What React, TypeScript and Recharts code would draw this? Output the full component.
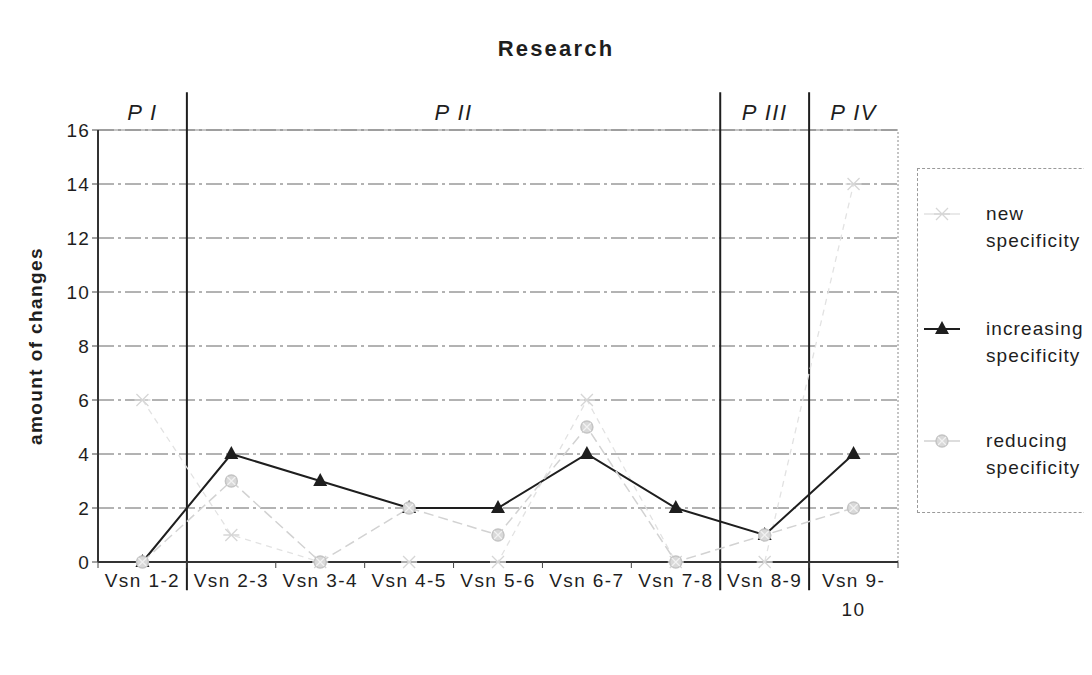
import {
  CartesianGrid,
  Line,
  LineChart,
  ReferenceArea,
  ReferenceLine,
  XAxis,
  YAxis,
} from 'recharts'

const categories = [
  'Vsn 1-2',
  'Vsn 2-3',
  'Vsn 3-4',
  'Vsn 4-5',
  'Vsn 5-6',
  'Vsn 6-7',
  'Vsn 7-8',
  'Vsn 8-9',
  'Vsn 9-10',
]
const newSpecificity = [6, 1, 0, 0, 0, 6, 0, 0, 14]
const increasingSpecificity = [0, 4, 3, 2, 2, 4, 2, 1, 4]
const reducingSpecificity = [0, 3, 0, 2, 1, 5, 0, 1, 2]
const seriesNames = ['new specificity', 'increasing specificity', 'reducing specificity']
const yTicks = [0, 2, 4, 6, 8, 10, 12, 14, 16]
const slotTicks = [0, 1, 2, 3, 4, 5, 6, 7, 8, 9]
const phaseNames = ['P I', 'P II', 'P III', 'P IV']
const phaseStarts = [0, 1, 7, 8]
const phaseEnds = [1, 7, 8, 9]

const FONT = '"Liberation Sans", Arial, sans-serif'
const INK = '#1e1e1e'
const NEW_COLOR = '#e2e2e2'
const REDUCING_COLOR = '#d2d2d2'
const SLOTS = 'a' // numeric axis over the category slots, for phase lines and ticks

const data = categories.map((name, i) => ({
  name,
  slot: i + 0.5,
  newSpec: newSpecificity[i],
  increasing: increasingSpecificity[i],
  reducing: reducingSpecificity[i],
}))

function TriangleDot({ cx, cy, index }: any) {
  return (
    <polygon
      key={`tri-${index}`}
      points={`${cx},${cy - 8} ${cx - 7},${cy + 5} ${cx + 7},${cy + 5}`}
      fill={INK}
    />
  )
}

function StarDot({ cx, cy, index }: any) {
  return (
    <g key={`star-${index}`}>
      <circle cx={cx} cy={cy} r={6} fill="#d9d9d9" stroke="#c4c4c4" strokeWidth={1.5} />
      <path
        d={`M${cx - 4},${cy - 4}L${cx + 4},${cy + 4}M${cx + 4},${cy - 4}L${cx - 4},${cy + 4}`}
        stroke="#f2f2f2"
        strokeWidth={1.2}
      />
    </g>
  )
}

function CrossDot({ cx, cy, index }: any) {
  return (
    <path
      key={`cross-${index}`}
      d={`M${cx - 6},${cy - 6}L${cx + 6},${cy + 6}M${cx + 6},${cy - 6}L${cx - 6},${cy + 6}M${cx - 8},${cy}L${cx + 8},${cy}`}
      stroke="#d6d6d6"
      strokeWidth={1.3}
      fill="none"
    />
  )
}

function CategoryTick({ x, y, payload }: any) {
  const label: string = payload.value
  // Excel wraps the last label after the hyphen
  const lines = label.length > 7 ? [label.slice(0, 6), label.slice(6)] : [label]
  return (
    <text
      x={x}
      y={y}
      textAnchor="middle"
      fill={INK}
      fontSize={19}
      letterSpacing={1.4}
      fontFamily={FONT}
    >
      {lines.map((line, i) => (
        <tspan key={i} x={x} dy={i === 0 ? 11 : 29}>
          {line}
        </tspan>
      ))}
    </text>
  )
}

function LegendBox() {
  const symbols = [CrossDot, TriangleDot, StarDot]
  const colors = [NEW_COLOR, INK, REDUCING_COLOR]
  const rowTops = [45, 160, 272]
  return (
    <div
      style={{
        position: 'absolute',
        left: 909,
        top: 160,
        width: 200,
        height: 345,
        border: '1px dashed #9a9a9a',
        borderRight: 'none',
        boxSizing: 'border-box',
        fontFamily: FONT,
        fontSize: 19,
        letterSpacing: 1.1,
        color: INK,
      }}
    >
      {seriesNames.map((name, i) => {
        const Sym = symbols[i]
        return (
          <div key={name} style={{ position: 'absolute', left: 0, top: rowTops[i] - 14 }}>
            <svg width={64} height={28} style={{ position: 'absolute', left: 4, top: 0 }}>
              <line x1={2} y1={14} x2={38} y2={14} stroke={colors[i]} strokeWidth={i === 1 ? 2 : 1.3} />
              {Sym({ cx: 20, cy: 14, index: 0 })}
            </svg>
            <div
              style={{ position: 'absolute', left: 68, top: 0, lineHeight: '27px', whiteSpace: 'nowrap' }}
            >
              {name.split(' ').map((w) => (
                <div key={w}>{w}</div>
              ))}
            </div>
          </div>
        )
      })}
    </div>
  )
}

export default function App() {
  return (
    <div style={{ position: 'relative', width: 1084, height: 659, overflow: 'hidden', fontFamily: FONT }}>
      <div
        style={{
          position: 'absolute',
          left: 0,
          width: 1096,
          top: 28,
          textAlign: 'center',
          fontWeight: 'bold',
          fontSize: 22,
          letterSpacing: 2.2,
          color: INK,
        }}
      >
        Research
      </div>
      <LineChart
        width={1076}
        height={650}
        data={data}
        margin={{ top: 122, right: 186, bottom: 36, left: 30 }}
      >
        <CartesianGrid vertical={false} stroke="#666" strokeDasharray="16 4 3 4" xAxisId="cat" />
        <XAxis
          xAxisId="cat"
          dataKey="name"
          scale="band"
          interval={0}
          tickLine={false}
          axisLine={false}
          tick={<CategoryTick />}
          height={54}
        />
        <XAxis
          xAxisId={SLOTS}
          type="number"
          dataKey="slot"
          domain={[0, 9]}
          allowDataOverflow
          ticks={slotTicks}
          tick={(p: any) => <g key={`s-${p.index}`} />}
          tickLine={{ stroke: '#444' }}
          tickSize={6}
          axisLine={{ stroke: '#333', strokeWidth: 2 }}
          height={6}
        />
        <YAxis
          domain={[0, 16]}
          ticks={yTicks}
          width={60}
          tickSize={6}
          tickMargin={2}
          tick={{ fontSize: 19, fill: INK, fontFamily: FONT, letterSpacing: 1.2 }}
          tickLine={{ stroke: '#444' }}
          axisLine={{ stroke: '#333', strokeWidth: 2 }}
          label={{
            value: 'amount of changes',
            angle: -90,
            position: 'center',
            dx: -33,
            fontSize: 19,
            fontWeight: 'bold',
            letterSpacing: 1.4,
            fill: INK,
            fontFamily: FONT,
          }}
        />
        <ReferenceLine xAxisId="cat" y={16} stroke="#8a8a8a" />
        <ReferenceLine xAxisId={SLOTS} x={9} stroke="#8a8a8a" strokeDasharray="2 2" />
        {phaseNames.map((p, i) => (
          <ReferenceArea
            key={p}
            xAxisId={SLOTS}
            x1={phaseStarts[i]}
            x2={phaseEnds[i]}
            fillOpacity={0}
            strokeOpacity={0}
            ifOverflow="visible"
            label={{
              value: p,
              position: 'top',
              offset: 10,
              fontSize: 22,
              fontStyle: 'italic',
              letterSpacing: 1.5,
              fill: INK,
              fontFamily: FONT,
            }}
          />
        ))}
        {phaseStarts.slice(1).map((x) => (
          <ReferenceLine
            key={x}
            xAxisId={SLOTS}
            segment={[
              { x, y: -1.05 },
              { x, y: 17.4 },
            ]}
            ifOverflow="visible"
            stroke={INK}
            strokeWidth={2}
          />
        ))}
        <Line
          xAxisId="cat"
          dataKey="newSpec"
          name={seriesNames[0]}
          stroke={NEW_COLOR}
          strokeWidth={1.3}
          strokeDasharray="6 5"
          dot={CrossDot}
          isAnimationActive={false}
        />
        <Line
          xAxisId="cat"
          dataKey="increasing"
          name={seriesNames[1]}
          stroke={INK}
          strokeWidth={2}
          dot={TriangleDot}
          isAnimationActive={false}
        />
        <Line
          xAxisId="cat"
          dataKey="reducing"
          name={seriesNames[2]}
          stroke={REDUCING_COLOR}
          strokeWidth={1.5}
          strokeDasharray="10 5"
          dot={StarDot}
          isAnimationActive={false}
        />
      </LineChart>
      <LegendBox />
    </div>
  )
}
